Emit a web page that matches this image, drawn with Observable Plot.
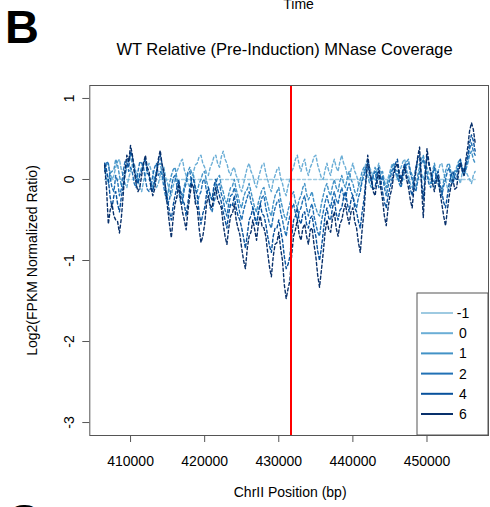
<!DOCTYPE html>
<html><head><meta charset="utf-8">
<script src="https://cdn.jsdelivr.net/npm/d3@7"></script>
<script src="https://cdn.jsdelivr.net/npm/@observablehq/plot@0.6"></script>
<style>
html,body{margin:0;padding:0;background:#fff;}
#chart{position:relative;width:490px;height:507px;overflow:hidden;}
</style></head><body><div id="chart"></div>
<script>
// ---- data ----
const timeLabels = ["-1", "0", "1", "2", "4", "6"];
const seriesColors = ["#9ecae1", "#6baed6", "#4292c6", "#2171b5", "#08519c", "#08306b"];
const startBp = 406500, stepBp = 250, nBins = 201;

const tMinus1 = [
  0,0,0,0,0,0,0,0,0,0, 0,0,0,0,0,0,0,0,0,0,
  0,0,0,0,0,0,0,0,0,0, 0,0,0,0,0,0,0,0,0,0,
  0,0,0,0,0,0,0,0,0,0, 0,0,0,0,0,0,0,0,0,0,
  0,0,0,0,0,0,0,0,0,0, 0,0,0,0,0,0,0,0,0,0,
  0,0,0,0,0,0,0,0,0,0, 0,0,0,0,0,0,0,0,0,0,
  0,0,0,0,0,0,0,0,0,0, 0,0,0,0,0,0,0,0,0,0,
  0,0,0,0,0,0,0,0,0,0, 0,0,0,0,0,0,0,0,0,0,
  0,0,0,0,0,0,0,0,0,0, 0,0,0,0,0,0,0,0,0,0,
  0,0,0,0,0,0,0,0,0,0, 0,0,0,0,0,0,0,0,0,0,
  0,0,0,0,0,0,0,0,0,0, 0,0,0,0,0,0,0,0,0,0,
  0];
const t0 = [
  0.1,0.18, 0.2,0.08, 0.0,0.05, 0.15,0.22, 0.25,0.12, 0.05,-0.05, -0.1,0.02, 0.1,0.18, 0.2,0.08, 0.0,-0.1,
  -0.15,-0.02, 0.05,0.15, 0.2,0.12, 0.1,-0.02, -0.1,-0.05, 0.05,0.12, 0.15,0.02, -0.05,-0.15, -0.2,-0.08, 0.0,0.1,
  0.15,0.22, 0.25,0.12, 0.05,-0.05, -0.1,0.02, 0.1,0.18, 0.2,0.28, 0.3,0.2, 0.15,0.08, 0.05,0.15, 0.2,0.28,
  0.3,0.2, 0.15,0.28, 0.35,0.25, 0.2,0.1, 0.05,0.12, 0.15,0.05, 0.0,-0.1, -0.15,-0.05, 0.05,0.15, 0.2,0.1,
  0.05,-0.05, -0.1,0.02, 0.1,0.18, 0.2,0.08, 0.0,-0.1, -0.15,-0.02, 0.05,0.12, 0.15,0.02, -0.05,-0.15, -0.2,-0.08,
  0.0,0.1, 0.15,0.25, 0.3,0.18, 0.1,0.2, 0.25,0.12, 0.05,0.15, 0.2,0.28, 0.3,0.18, 0.1,0.02, 0.0,0.12,
  0.2,0.1, 0.05,0.18, 0.25,0.15, 0.1,0.22, 0.3,0.2, 0.15,0.05, 0.0,0.12, 0.2,0.1, 0.05,-0.05, -0.1,0.02,
  0.1,0.2, 0.25,0.15, 0.1,0.02, 0.0,0.12, 0.2,0.1, 0.05,-0.05, -0.1,0.02, 0.1,0.18, 0.2,0.08, 0.0,0.1,
  0.15,0.22, 0.25,0.12, 0.05,-0.05, -0.1,0.02, 0.1,0.18, 0.2,0.08, 0.0,0.1, 0.15,0.08, 0.05,-0.05, -0.1,0.02,
  0.1,0.18, 0.2,0.08, 0.0,-0.1, -0.15,-0.02, 0.05,0.1, 0.1,0.02, -0.05,0.08, 0.15,0.1, 0.05,0.0, -0.05,0.05,
  0.1];
const t1 = [
  0.15,0.02, -0.05,0.08, 0.1,0.12, 0.25,0.18, 0.05,-0.08, -0.1,0.05, 0.15,0.25, 0.3,0.18, 0.1,0.05, -0.05,0.08,
  0.15,0.22, 0.25,0.12, 0.05,-0.05, -0.1,0.02, 0.1,0.18, 0.2,0.08, 0.0,-0.12, -0.2,-0.05, 0.05,0.12, 0.15,0.02,
  -0.05,-0.15, -0.2,-0.08, 0.0,0.1, 0.15,0.08, 0.05,-0.1, -0.15,-0.05, 0.0,0.08, 0.1,-0.02, -0.1,-0.2, -0.25,-0.12,
  -0.05,0.02, 0.05,-0.08, -0.15,-0.25, -0.3,-0.18, -0.1,-0.08, 0.0,-0.12, -0.2,-0.3, -0.35,-0.22, -0.15,-0.12, -0.05,-0.15,
  -0.25,-0.35, -0.4,-0.28, -0.2,-0.12, -0.1,-0.22, -0.3,-0.4, -0.45,-0.3, -0.2,-0.15, -0.1,-0.25, -0.35,-0.45, -0.5,-0.38,
  -0.3,-0.2, -0.15,-0.28, -0.35,-0.25, -0.2,-0.1, -0.05,-0.18, -0.25,-0.2, -0.15,-0.28, -0.35,-0.42, -0.45,-0.3, -0.2,-0.1,
  -0.05,-0.15, -0.2,-0.08, 0.0,-0.1, -0.15,-0.02, 0.05,-0.05, -0.1,0.02, 0.1,0.0, -0.05,-0.15, -0.2,-0.08, 0.0,0.1,
  0.15,0.08, 0.05,-0.05, -0.1,0.05, 0.15,0.05, 0.0,0.08, 0.1,-0.02, -0.1,-0.02, 0.05,0.15, 0.2,0.12, 0.1,0.0,
  -0.05,0.08, 0.15,0.22, 0.25,0.12, 0.05,-0.05, -0.1,0.05, 0.15,0.25, 0.3,0.18, 0.1,0.0, -0.05,0.1, 0.2,0.08,
  0.0,-0.1, -0.15,-0.02, 0.1,0.18, 0.2,0.08, 0.0,0.1, 0.15,0.22, 0.25,0.12, 0.05,0.12, 0.2,0.3, 0.35,0.25,
  0.2];
const t2 = [
  0.1,0.22, 0.2,0.02, -0.1,-0.15, 0.05,-0.02, -0.2,-0.12, 0.1,0.22, 0.25,0.1, 0.15,0.08, -0.05,-0.1, 0.1,0.22,
  0.2,0.15, 0.0,-0.12, -0.15,-0.1, 0.05,0.15, 0.2,0.05, 0.1,0.05, -0.1,-0.22, -0.3,-0.25, -0.1,0.02, 0.05,-0.08,
  -0.15,-0.28, -0.3,-0.12, -0.05,0.08, 0.1,-0.05, -0.1,-0.25, -0.3,-0.2, -0.15,-0.02, 0.0,-0.15, -0.2,-0.35, -0.4,-0.28,
  -0.2,-0.08, -0.05,-0.18, -0.25,-0.38, -0.45,-0.3, -0.2,-0.18, -0.1,-0.2, -0.3,-0.42, -0.5,-0.38, -0.3,-0.22, -0.15,-0.28,
  -0.35,-0.45, -0.55,-0.42, -0.3,-0.22, -0.2,-0.35, -0.45,-0.55, -0.6,-0.45, -0.35,-0.28, -0.25,-0.4, -0.5,-0.62, -0.7,-0.55,
  -0.45,-0.35, -0.3,-0.42, -0.5,-0.4, -0.35,-0.25, -0.2,-0.35, -0.45,-0.35, -0.3,-0.45, -0.55,-0.65, -0.7,-0.52, -0.4,-0.28,
  -0.2,-0.3, -0.35,-0.22, -0.15,-0.25, -0.3,-0.18, -0.1,-0.2, -0.25,-0.12, -0.05,-0.15, -0.2,-0.3, -0.35,-0.22, -0.15,-0.02,
  0.05,0.15, 0.2,0.05, -0.05,0.05, 0.1,-0.02, -0.1,-0.05, 0.05,-0.1, -0.2,-0.08, 0.0,0.1, 0.15,0.08, 0.05,-0.05,
  -0.1,0.02, 0.1,0.18, 0.2,0.08, 0.0,-0.1, -0.15,-0.02, 0.1,0.2, 0.25,0.12, 0.05,-0.05, -0.1,0.05, 0.15,0.02,
  -0.05,-0.15, -0.2,-0.08, 0.0,0.1, 0.15,0.0, -0.05,0.05, 0.1,0.18, 0.2,0.1, 0.05,0.15, 0.25,0.38, 0.45,0.35,
  0.3];
const t4 = [
  0.2,0.12, 0.0,-0.22, -0.35,-0.2, -0.15,-0.3, -0.4,-0.22, -0.1,0.08, 0.2,0.15, 0.35,0.28, 0.15,0.0, -0.05,0.05,
  0.1,0.18, 0.25,0.08, 0.05,-0.08, -0.15,-0.02, 0.1,0.22, 0.3,0.2, 0.05,-0.12, -0.25,-0.4, -0.5,-0.32, -0.2,-0.1,
  0.0,-0.15, -0.25,-0.3, -0.45,-0.28, -0.1,0.02, 0.0,-0.12, -0.2,-0.4, -0.55,-0.42, -0.35,-0.18, -0.1,-0.2, -0.25,-0.08,
  0.0,-0.12, -0.2,-0.28, -0.4,-0.5, -0.6,-0.42, -0.3,-0.32, -0.2,-0.35, -0.45,-0.5, -0.6,-0.72, -0.85,-0.68, -0.5,-0.45,
  -0.35,-0.48, -0.55,-0.4, -0.3,-0.42, -0.45,-0.55, -0.7,-0.82, -0.9,-0.7, -0.6,-0.6, -0.5,-0.62, -0.75,-0.95, -1.1,-1.05,
  -0.95,-0.7, -0.5,-0.45, -0.35,-0.5, -0.55,-0.42, -0.4,-0.55, -0.6,-0.48, -0.45,-0.6, -0.7,-0.88, -1.0,-0.85, -0.65,-0.45,
  -0.35,-0.48, -0.5,-0.35, -0.25,-0.42, -0.5,-0.38, -0.35,-0.22, -0.15,-0.3, -0.4,-0.25, -0.2,-0.35, -0.4,-0.52, -0.6,-0.4,
  -0.25,0.0, 0.2,0.08, 0.0,-0.12, -0.1,0.05, 0.15,0.0, -0.15,-0.28, -0.35,-0.2, -0.1,-0.02, 0.1,0.2, 0.25,0.1,
  0.0,0.12, 0.2,0.05, 0.0,-0.12, -0.2,0.0, 0.15,0.25, 0.3,0.0, -0.25,0.05, 0.3,0.18, 0.1,0.0, -0.05,0.05,
  0.1,-0.05, -0.15,-0.28, -0.35,-0.2, -0.05,0.05, 0.1,0.02, 0.0,0.15, 0.25,0.15, 0.1,0.2, 0.3,0.45, 0.55,0.48,
  0.35];
const t6 = [
  0.18,-0.1, -0.55,-0.38, -0.3,-0.45, -0.5,-0.52, -0.66,-0.48, -0.2,0.12, 0.3,0.22, 0.42,0.3, 0.1,-0.05, -0.15,-0.1,
  0.05,0.2, 0.3,0.15, 0.1,-0.1, -0.2,-0.12, 0.05,0.25, 0.36,0.18, 0.1,-0.15, -0.35,-0.55, -0.72,-0.48, -0.3,-0.22,
  -0.05,-0.25, -0.4,-0.5, -0.62,-0.38, -0.2,-0.05, -0.1,-0.3, -0.35,-0.6, -0.78,-0.7, -0.55,-0.3, -0.2,-0.32, -0.35,-0.2,
  -0.1,-0.25, -0.3,-0.35, -0.55,-0.7, -0.8,-0.6, -0.45,-0.42, -0.3,-0.5, -0.6,-0.68, -0.85,-1.0, -1.1,-0.85, -0.7,-0.65,
  -0.5,-0.62, -0.75,-0.55, -0.45,-0.58, -0.6,-0.7, -0.9,-1.08, -1.2,-0.95, -0.8,-0.78, -0.65,-0.85, -1.0,-1.3, -1.47,-1.35,
  -1.25,-0.92, -0.7,-0.62, -0.5,-0.68, -0.75,-0.6, -0.55,-0.7, -0.8,-0.62, -0.6,-0.8, -0.95,-1.18, -1.33,-1.12, -0.9,-0.65,
  -0.5,-0.62, -0.65,-0.48, -0.4,-0.6, -0.7,-0.55, -0.5,-0.38, -0.3,-0.45, -0.55,-0.4, -0.35,-0.52, -0.6,-0.78, -0.9,-0.62,
  -0.4,-0.05, 0.3,0.12, 0.0,-0.15, -0.2,-0.02, 0.1,-0.1, -0.25,-0.45, -0.57,-0.35, -0.2,-0.12, 0.05,0.15, 0.2,0.05,
  -0.05,0.08, 0.15,0.0, -0.1,-0.25, -0.35,-0.1, 0.1,0.28, 0.4,-0.05, -0.47,-0.02, 0.38,0.22, 0.1,-0.05, -0.15,-0.02,
  0.05,-0.15, -0.3,-0.45, -0.57,-0.38, -0.2,-0.08, 0.0,-0.12, -0.1,0.08, 0.2,0.12, 0.05,0.25, 0.4,0.6, 0.7,0.62,
  0.45];

const xTicks = [410000, 420000, 430000, 440000, 450000];
const yTicks = [-3, -2, -1, 0, 1];
const inductionSite = 431650;
const titleText = "WT Relative (Pre-Induction) MNase Coverage";
const topText = "Time";
const panelLetter = "B";
const nextPanelLetter = "C";
const xLabel = "ChrII Position (bp)";
const yLabel = "Log2(FPKM Normalized Ratio)";

// ---- build table ----
const seriesValues = [tMinus1, t0, t1, t2, t4, t6];
const positions = d3.range(nBins).map(i => startBp + i * stepBp);
const rows = seriesValues.flatMap((vals, s) =>
  vals.map((v, i) => ({pos: positions[i], ratio: v, time: timeLabels[s]})));

const fontFamily = '"Liberation Sans", Arial, Helvetica, sans-serif';
const W = 490, H = 507;
const mL = 89.3, mR = 2, mT = 85, mB = 72;

const plot = Plot.plot({
  width: W, height: H,
  marginLeft: mL, marginRight: mR, marginTop: mT, marginBottom: mB,
  style: {fontFamily, fontSize: "14px", background: "#fff", color: "#000", overflow: "hidden"},
  x: {domain: [404500, 458300]},
  y: {domain: [-3.16, 1.16]},
  color: {domain: timeLabels, range: seriesColors},
  marks: [
    Plot.line(rows, {x: "pos", y: "ratio", z: "time", stroke: "time",
      strokeWidth: 1.4, strokeDasharray: "3,2.5", curve: "linear"}),
    Plot.ruleX([inductionSite], {stroke: "#ff0000", strokeWidth: 2}),
    Plot.frame({stroke: "#555", strokeWidth: 1}),
    Plot.axisX({ticks: xTicks, tickFormat: d => String(d), tickSize: 7, tickPadding: 14,
      fontSize: 14, label: null, stroke: "#555"}),
    Plot.axisY({ticks: yTicks, tickFormat: d => String(d), tickSize: 7, tickRotate: -90,
      tickPadding: 9, fontSize: 14, label: null, stroke: "#555"}),
    Plot.text([titleText], {text: d => d, frameAnchor: "top", lineAnchor: "middle",
      dx: -4.6, dy: -35.3, fontSize: 16.5}),
    Plot.text([topText], {text: d => d, frameAnchor: "top", lineAnchor: "middle",
      dx: 9.4, dy: -81, fontSize: 14}),
    Plot.text([panelLetter], {text: d => d, frameAnchor: "top-left", textAnchor: "start", lineAnchor: "middle",
      dx: 4.6 - mL, dy: -58, fontSize: 47, fontWeight: "bold"}),
    Plot.text([nextPanelLetter], {text: d => d, frameAnchor: "bottom-left", textAnchor: "start", lineAnchor: "middle",
      dx: 6 - mL, dy: 86.6, fontSize: 47, fontWeight: "bold"}),
    Plot.text([xLabel], {text: d => d, frameAnchor: "bottom", lineAnchor: "middle",
      dx: 1, dy: 57.5, fontSize: 14}),
    Plot.text([yLabel], {text: d => d, frameAnchor: "left", textAnchor: "middle", lineAnchor: "middle",
      dx: 32 - mL, rotate: -90, fontSize: 14})
  ]
});

// ---- legend (inside plot, bottom-right) ----
const svg = d3.select(plot);
const plotRight = W - mR, plotBottom = H - mB;
const boxW = 71, boxH = 142;
const boxLeft = plotRight - boxW, boxTop = plotBottom - boxH;
const lg = svg.append("g").attr("font-family", fontFamily).attr("font-size", 14);
lg.append("rect").attr("x", boxLeft).attr("y", boxTop).attr("width", boxW).attr("height", boxH)
  .attr("fill", "#fff").attr("stroke", "#555").attr("stroke-width", 1);
timeLabels.forEach((lab, k) => {
  const yy = boxTop + 20 + k * 20.2;
  lg.append("line").attr("x1", boxLeft + 4).attr("x2", boxLeft + 36)
    .attr("y1", yy).attr("y2", yy).attr("stroke", seriesColors[k]).attr("stroke-width", 2);
  lg.append("text").attr("x", boxLeft + 46).attr("y", yy).attr("dy", "0.35em")
    .attr("fill", "#000").text(lab);
});

document.getElementById("chart").appendChild(plot);
</script>
</body></html>
